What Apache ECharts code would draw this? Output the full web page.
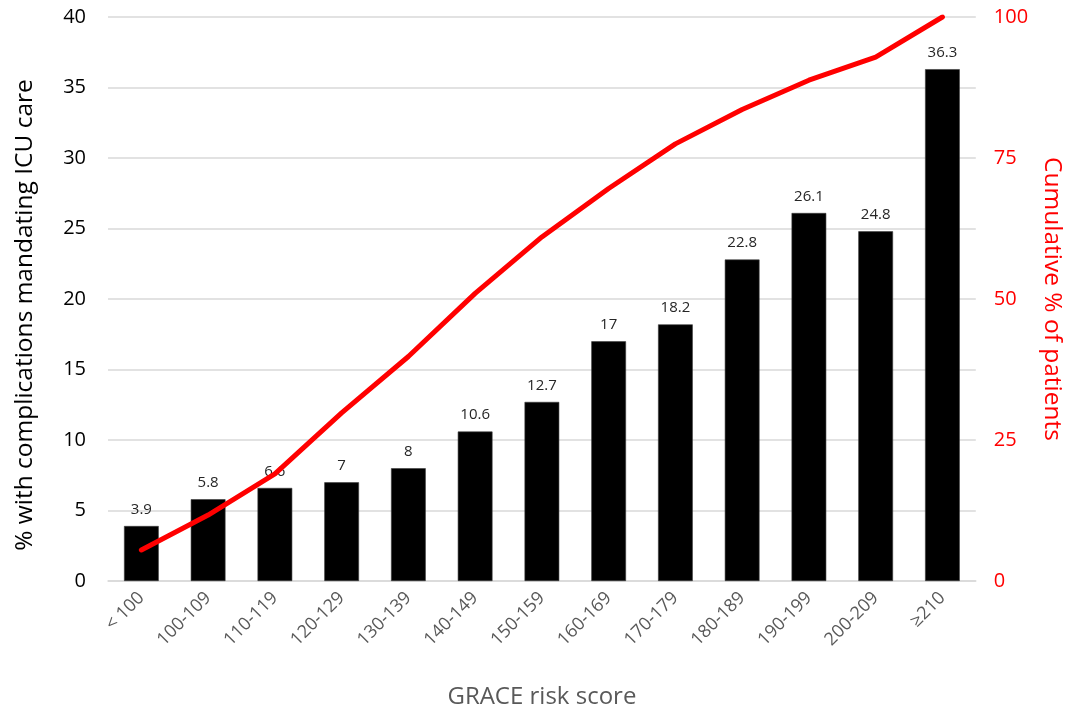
<!DOCTYPE html>
<html>
<head>
<meta charset="utf-8">
<script src="https://cdn.jsdelivr.net/npm/echarts@6/dist/echarts.min.js"></script>
<style>
  html, body { margin: 0; padding: 0; background: #fff; }
  #chart { width: 1072px; height: 715px; }
</style>
</head>
<body>
<div id="chart"></div>
<script>
// GRACE risk score bands
const categories = ['< 100', '100-109', '110-119', '120-129', '130-139', '140-149',
  '150-159', '160-169', '170-179', '180-189', '190-199', '200-209', '\u2265210'];

// % of patients with complications mandating ICU care, per band
const icuPercent = [3.9, 5.8, 6.6, 7, 8, 10.6, 12.7, 17, 18.2, 22.8, 26.1, 24.8, 36.3];

// Cumulative % of patients up to each band
const cumulativePercent = [5.5, 11.7, 19.0, 29.8, 39.8, 51.0, 61.0, 69.6, 77.5, 83.6, 88.8, 92.9, 100];

// Axis tick values
const leftTicks = [0, 5, 10, 15, 20, 25, 30, 35, 40];
const rightTicks = [0, 25, 50, 75, 100];

const FONT = '"Open Sans", "Noto Sans", sans-serif';

const chart = echarts.init(document.getElementById('chart'), null, { renderer: 'canvas' });

chart.setOption({
  animation: false,
  backgroundColor: '#ffffff',
  textStyle: { fontFamily: FONT },
  grid: { left: 108, right: 95, top: 17, bottom: 134, containLabel: false },
  xAxis: {
    type: 'category',
    data: categories,
    axisLine: { show: true, lineStyle: { color: '#d9d9d9', width: 1.5 } },
    axisTick: { show: false },
    axisLabel: {
      rotate: 45,
      interval: 0,
      margin: 14,
      fontSize: 18,
      color: '#595959',
      fontFamily: FONT
    },
    name: 'GRACE risk score',
    nameLocation: 'middle',
    nameGap: 104,
    nameTextStyle: { fontSize: 24, color: '#595959', fontFamily: FONT }
  },
  yAxis: [
    {
      type: 'value',
      min: leftTicks[0],
      max: leftTicks[leftTicks.length - 1],
      interval: leftTicks[1] - leftTicks[0],
      axisLine: { show: false },
      axisTick: { show: false },
      splitLine: { show: true, lineStyle: { color: '#d9d9d9', width: 1.5 } },
      axisLabel: { fontSize: 20, color: '#000000', margin: 22, fontFamily: FONT },
      name: '% with complications mandating ICU care',
      nameLocation: 'middle',
      nameRotate: 90,
      nameGap: 70,
      nameTextStyle: { fontSize: 24.5, color: '#000000', fontFamily: FONT, padding: [0, 32, 0, 0] }
    },
    {
      type: 'value',
      min: rightTicks[0],
      max: rightTicks[rightTicks.length - 1],
      interval: rightTicks[1] - rightTicks[0],
      axisLine: { show: false },
      axisTick: { show: false },
      splitLine: { show: false },
      axisLabel: { fontSize: 20, color: '#ff0000', margin: 18, fontFamily: FONT },
      name: 'Cumulative % of patients',
      nameLocation: 'middle',
      nameRotate: -90,
      nameGap: 62,
      nameTextStyle: { fontSize: 24.5, color: '#ff0000', fontFamily: FONT }
    }
  ],
  series: [
    {
      type: 'bar',
      data: icuPercent,
      yAxisIndex: 0,
      barCategoryGap: '48%',
      itemStyle: { color: '#000000', borderColor: '#3a3a3a', borderWidth: 0.6 },
      label: {
        show: true,
        position: 'top',
        distance: 9,
        fontSize: 15,
        color: '#262626',
        fontFamily: FONT
      },
      z: 2
    },
    {
      type: 'line',
      data: cumulativePercent,
      yAxisIndex: 1,
      showSymbol: false,
      symbol: 'none',
      lineStyle: { color: '#ff0000', width: 5, cap: 'round', join: 'round' },
      z: 5
    }
  ]
});
</script>
</body>
</html>
